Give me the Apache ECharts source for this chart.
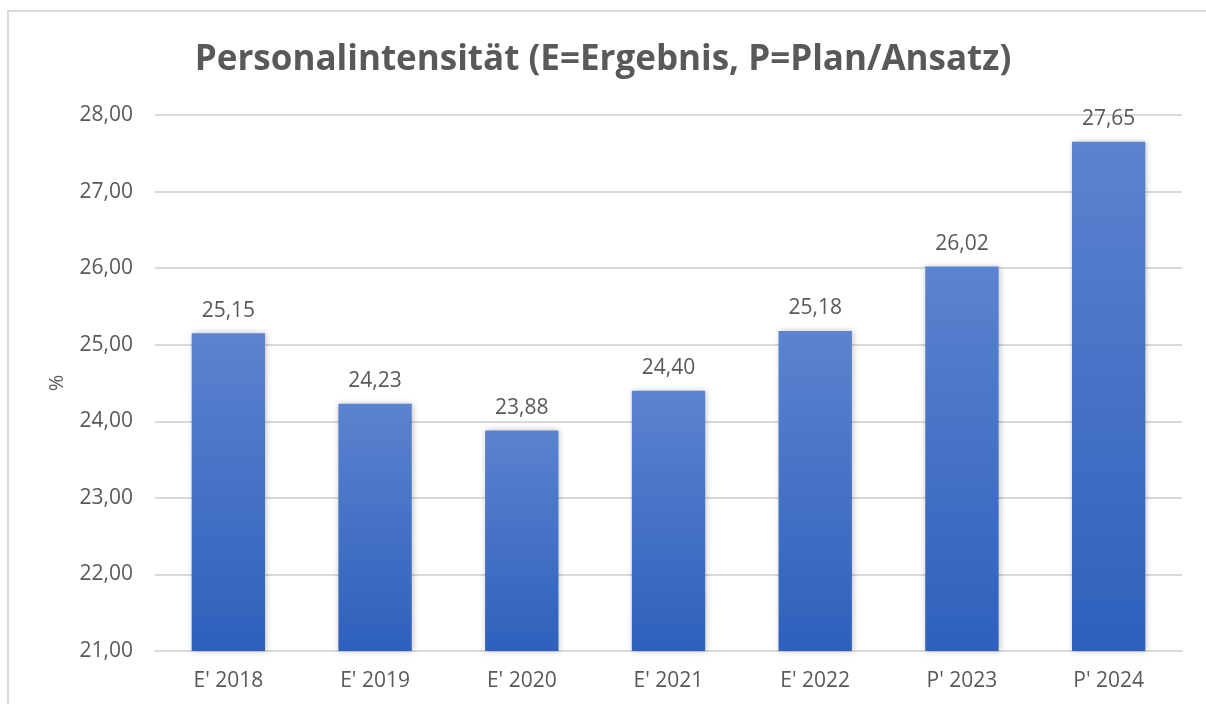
<!DOCTYPE html>
<html>
<head>
<meta charset="utf-8">
<script src="https://cdn.jsdelivr.net/npm/echarts@6/dist/echarts.min.js"></script>
<style>
    html, body { margin: 0; padding: 0; background: #fff; }
    #frame {
        position: absolute; left: 7px; top: 10px;
        width: 1220px; height: 720px;
        border: 2px solid #d9d9d9;
        box-sizing: border-box;
    }
    #chart { position: absolute; left: 0; top: 0; width: 1206px; height: 704px; }
</style>
</head>
<body>
<div id="frame"></div>
<div id="chart"></div>
<script>
// --- Data ---
const categories = ["E' 2018", "E' 2019", "E' 2020", "E' 2021", "E' 2022", "P' 2023", "P' 2024"];
const values = [25.15, 24.23, 23.88, 24.40, 25.18, 26.02, 27.65];
const yMin = 21;
const yMax = 28;

const fmt = v => v.toFixed(2).replace('.', ',');
const textColor = '#595959';
const font = 'Open Sans';

const chart = echarts.init(document.getElementById('chart'));
chart.setOption({
    backgroundColor: 'transparent',
    animation: false,
    title: {
        text: 'Personalintensität (E=Ergebnis, P=Plan/Ansatz)',
        left: 'center',
        top: 38,
        textStyle: { color: textColor, fontSize: 35, fontWeight: 'bold', fontFamily: font }
    },
    grid: { left: 155, right: 24, top: 115, bottom: 53 },
    xAxis: {
        type: 'category',
        data: categories,
        axisLine: { lineStyle: { color: '#d9d9d9', width: 2 } },
        axisTick: { show: false },
        axisLabel: { color: textColor, fontSize: 21, fontFamily: font, margin: 20 }
    },
    yAxis: {
        type: 'value',
        min: yMin,
        max: yMax,
        interval: 1,
        name: '%',
        nameLocation: 'middle',
        nameGap: 88,
        nameRotate: 90,
        nameTextStyle: { color: textColor, fontSize: 20, fontFamily: font },
        axisLine: { show: false },
        axisTick: { show: false },
        splitLine: { lineStyle: { color: '#d9d9d9', width: 2 } },
        axisLabel: { color: textColor, fontSize: 21, fontFamily: font, margin: 22, formatter: fmt }
    },
    series: [{
        type: 'bar',
        data: values,
        barWidth: '50%',
        itemStyle: {
            color: new echarts.graphic.LinearGradient(0, 0, 0, 1, [
                { offset: 0, color: '#5b83cf' },
                { offset: 1, color: '#2e60bc' }
            ]),
            shadowColor: 'rgba(0,0,0,0.25)',
            shadowBlur: 6,
            shadowOffsetX: 1
        },
        label: {
            show: true,
            position: 'top',
            distance: 12,
            color: textColor,
            fontSize: 21,
            fontFamily: font,
            formatter: p => fmt(p.value)
        }
    }]
});
</script>
</body>
</html>
